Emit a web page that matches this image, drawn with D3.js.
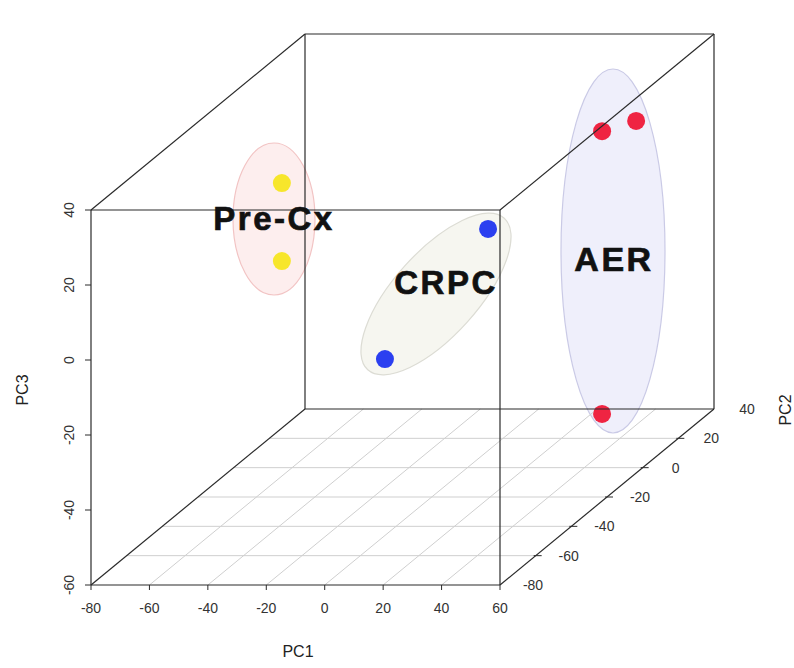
<!DOCTYPE html>
<html>
<head>
<meta charset="utf-8">
<script src="https://cdn.jsdelivr.net/npm/d3@7"></script>
<style>
  body { margin: 0; background: #fff; }
  svg text { font-family: "Liberation Sans", Arial, sans-serif; }
</style>
</head>
<body>
<div id="chart"></div>
<script>
// sample scores on the first three components
var groups = ["Pre-Cx", "Pre-Cx", "CRPC", "CRPC", "AER", "AER", "AER"];
var pc1 = [-63.5, -63.5, 31.5, -3.8, 33.9, 42.5, 33.9];
var pc2 = [0, 0, -40, -40, 20, 25, 20];
var pc3 = [15.9, -4.9, 19.3, -15.4, 21.9, 22.7, -53.5];

var pc1Ticks = [-80, -60, -40, -20, 0, 20, 40, 60];
var pc2Ticks = [-80, -60, -40, -20, 0, 20, 40];
var pc3Ticks = [-60, -40, -20, 0, 20, 40];

var groupColors = {"Pre-Cx": "#f7e62b", "CRPC": "#2b3ff0", "AER": "#ef2442"};

var w = 794, h = 668;
var depthX = 214, depthY = -176;

var svg = d3.select("#chart").append("svg")
  .attr("width", w)
  .attr("height", h);

var x = d3.scaleLinear().domain([-80, 60]).range([91, 500]);
var z = d3.scaleLinear().domain([-60, 40]).range([585, 210]);
var depth = d3.scaleLinear().domain([-80, 40]).range([0, 1]);

function proj(a, b, c){
  var t = depth(b);
  return [x(a) + t * depthX, z(c) + t * depthY];
}

function seg(g, p, q, color, width){
  g.append("line")
    .attr("x1", p[0]).attr("y1", p[1])
    .attr("x2", q[0]).attr("y2", q[1])
    .attr("stroke", color)
    .attr("stroke-width", width);
}

// group ellipses (drawn underneath)
var ell = svg.append("g");
ell.append("ellipse")
  .attr("cx", 274).attr("cy", 219).attr("rx", 41).attr("ry", 76)
  .attr("fill", "rgba(250,205,205,0.35)")
  .attr("stroke", "#f2c4c4").attr("stroke-width", 1.2);
ell.append("ellipse")
  .attr("transform", "translate(436,294) rotate(-48)")
  .attr("rx", 102).attr("ry", 42)
  .attr("fill", "rgba(238,238,225,0.5)")
  .attr("stroke", "#dcdcd4").attr("stroke-width", 1.2);
ell.append("ellipse")
  .attr("cx", 613).attr("cy", 251).attr("rx", 52).attr("ry", 182)
  .attr("fill", "rgba(215,215,245,0.4)")
  .attr("stroke", "#cacae6").attr("stroke-width", 1.2);

// floor grid
var grid = svg.append("g");
pc2Ticks.slice(1, -1).forEach(function(v){
  seg(grid, proj(-80, v, -60), proj(60, v, -60), "#cfcfcf", 1);
});
pc1Ticks.slice(1, -1).forEach(function(v){
  seg(grid, proj(v, -80, -60), proj(v, 40, -60), "#cfcfcf", 1);
});

// points
svg.append("g").selectAll("circle")
  .data(d3.range(groups.length))
  .join("circle")
  .attr("cx", function(i){ return proj(pc1[i], pc2[i], pc3[i])[0]; })
  .attr("cy", function(i){ return proj(pc1[i], pc2[i], pc3[i])[1]; })
  .attr("r", 9)
  .attr("fill", function(i){ return groupColors[groups[i]]; });

// box
var box = svg.append("g");
var lc = "#2a2a2a", lw = 1.2;
[[-80, -80, -60, 60, -80, -60],
 [-80, -80, 40, 60, -80, 40],
 [-80, -80, -60, -80, -80, 40],
 [60, -80, -60, 60, -80, 40],
 [-80, 40, -60, 60, 40, -60],
 [-80, 40, 40, 60, 40, 40],
 [-80, 40, -60, -80, 40, 40],
 [60, 40, -60, 60, 40, 40],
 [-80, -80, -60, -80, 40, -60],
 [-80, -80, 40, -80, 40, 40],
 [60, -80, -60, 60, 40, -60],
 [60, -80, 40, 60, 40, 40]
].forEach(function(e){
  seg(box, proj(e[0], e[1], e[2]), proj(e[3], e[4], e[5]), lc, lw);
});

// PC1 axis
var ax = svg.append("g").attr("fill", "#333").attr("font-size", 14);
pc1Ticks.forEach(function(v){
  var p = proj(v, -80, -60);
  seg(ax, [p[0], p[1]], [p[0], p[1] + 5], lc, 1);
  ax.append("text").attr("x", p[0]).attr("y", p[1] + 28)
    .attr("text-anchor", "middle").text(v);
});

// PC3 axis
pc3Ticks.forEach(function(v){
  var p = proj(-80, -80, v);
  seg(ax, [p[0] - 6, p[1]], [p[0], p[1]], lc, 1);
  ax.append("text")
    .attr("transform", "translate(" + (p[0] - 17) + "," + p[1] + ") rotate(-90)")
    .attr("text-anchor", "middle").text(v);
});

// PC2 axis
pc2Ticks.forEach(function(v){
  var p = proj(60, v, -60);
  if (v > -80 && v < 40) seg(ax, [p[0] - 2, p[1]], [p[0] + 6, p[1]], lc, 1);
  ax.append("text").attr("x", p[0] + 33).attr("y", p[1] + 5)
    .attr("text-anchor", "middle").text(v);
});

// axis titles
var tt = svg.append("g").attr("fill", "#222").attr("font-size", 16);
tt.append("text").attr("x", 298).attr("y", 657).attr("text-anchor", "middle").text("PC1");
tt.append("text").attr("transform", "translate(28,390) rotate(-90)")
  .attr("text-anchor", "middle").text("PC3");
tt.append("text").attr("transform", "translate(791,410) rotate(-90)")
  .attr("text-anchor", "middle").text("PC2");

// group labels
var lab = svg.append("g").attr("fill", "#111").attr("font-weight", "bold")
  .attr("stroke", "#111").attr("stroke-width", 0.7)
  .attr("text-anchor", "middle").style("letter-spacing", "2.5px");
lab.append("text").attr("x", 274).attr("y", 230).attr("font-size", 33).text("Pre-Cx");
lab.append("text").attr("x", 446).attr("y", 294).attr("font-size", 33).text("CRPC");
lab.append("text").attr("x", 614).attr("y", 271).attr("font-size", 34).text("AER");
</script>
</body>
</html>
